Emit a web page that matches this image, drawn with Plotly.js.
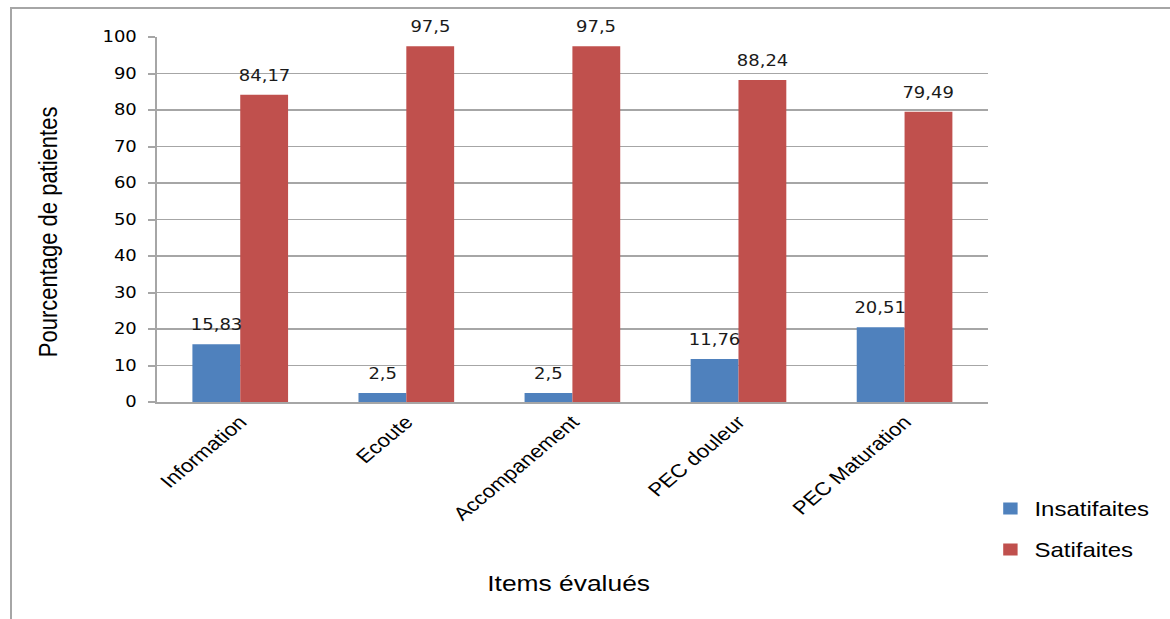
<!DOCTYPE html>
<html>
<head>
<meta charset="utf-8">
<script src="https://cdn.plot.ly/plotly-3.0.1.min.js"></script>
<style>
  html, body { margin: 0; padding: 0; background: #fff; overflow: hidden; }
  #frame {
    position: absolute; left: 10px; top: 7px; width: 1200px; height: 640px;
    border-left: 2px solid #a6a6a6; border-top: 2px solid #a6a6a6;
    pointer-events: none;
  }
  /* the chart is laid out at 975px and widened to the full 1170px */
  #chart {
    position: absolute; left: 0; top: 0; width: 975px; height: 619px;
    transform: scaleX(1.2); transform-origin: 0 0;
  }
</style>
</head>
<body>
<div id="frame"></div>
<div id="chart"></div>
<script>
// Satisfaction par item évalué (% de patientes)
const categories = ['Information', 'Ecoute', 'Accompanement', 'PEC douleur', 'PEC Maturation'];
const insatisfaites = [15.83, 2.5, 2.5, 11.76, 20.51];
const satisfaites = [84.17, 97.5, 97.5, 88.24, 79.49];
const seriesNames = ['Insatifaites', 'Satifaites'];
const yTicks = [0, 10, 20, 30, 40, 50, 60, 70, 80, 90, 100];

const W = 975, H = 619;
const margin = { l: 131, r: 150, t: 37, b: 217 };
const bargap = 0.424;
const plotW = W - margin.l - margin.r;
const plotH = H - margin.t - margin.b;
const barPx = plotW / categories.length * (1 - bargap) / 2;

const fmt = v => String(v).replace('.', ',');
const px2x = px => (px - margin.l) / plotW;
const px2y = py => (H - margin.b - py) / plotH;

const blue = '#4F81BD', red = '#C0504D';
const gridCol = '#a6a6a6';

const traces = [
  { type: 'bar', name: seriesNames[0], x: categories, y: insatisfaites,
    marker: { color: blue }, legendgroup: 'a', hoverinfo: 'x+y' },
  { type: 'bar', name: seriesNames[1], x: categories, y: satisfaites,
    marker: { color: red }, legendgroup: 'b', hoverinfo: 'x+y' }
];

// value labels above each bar
const labelFont = { family: 'DejaVu Sans, Verdana, sans-serif', size: 15, color: '#1a1a1a' };
const annotations = [];
[insatisfaites, satisfaites].forEach((vals, s) => {
  vals.forEach((v, i) => {
    annotations.push({
      x: categories[i], y: v, xref: 'x', yref: 'y',
      text: fmt(v), showarrow: false, font: labelFont,
      xanchor: 'center', yanchor: 'bottom',
      xshift: (s === 0 ? -1 : 1) * barPx / 2, yshift: 8
    });
  });
});

// axis titles
const titleFont = { family: 'Liberation Sans, Arial, sans-serif', size: 22, color: '#000' };
annotations.push({
  xref: 'paper', yref: 'paper', x: px2x(39), y: px2y(232),
  text: 'Pourcentage de patientes', textangle: -90, showarrow: false,
  xanchor: 'center', yanchor: 'middle', font: titleFont
});
annotations.push({
  xref: 'paper', yref: 'paper', x: px2x(475), y: px2y(583),
  text: 'Items évalués', showarrow: false,
  xanchor: 'center', yanchor: 'middle', font: titleFont
});

const layout = {
  width: W, height: H,
  margin: margin,
  paper_bgcolor: 'rgba(0,0,0,0)',
  plot_bgcolor: '#fff',
  barmode: 'group',
  bargap: bargap,
  bargroupgap: 0,
  showlegend: true,
  legend: {
    x: px2x(824), y: px2y(489), xanchor: 'left', yanchor: 'top',
    traceorder: 'grouped', tracegroupgap: 12,
    font: { family: 'Liberation Sans, Arial, sans-serif', size: 20, color: '#000' },
    bgcolor: 'rgba(0,0,0,0)'
  },
  xaxis: {
    type: 'category',
    showline: true, linecolor: gridCol, linewidth: 2,
    ticks: '', showgrid: false, zeroline: false,
    tickangle: -45,
    tickfont: { family: 'Liberation Sans, Arial, sans-serif', size: 18.5, color: '#000' }
  },
  yaxis: {
    range: [0, 100], tickvals: yTicks, ticktext: yTicks.map(String),
    showline: true, linecolor: gridCol, linewidth: 2,
    ticks: 'outside', ticklen: 6, tickwidth: 2, tickcolor: gridCol,
    ticklabelstandoff: 6,
    showgrid: true, gridcolor: gridCol, gridwidth: 1.5, zeroline: false,
    tickfont: { family: 'DejaVu Sans, Verdana, sans-serif', size: 15, color: '#000' }
  },
  annotations: annotations
};

Plotly.newPlot('chart', traces, layout, { displayModeBar: false, staticPlot: true });
</script>
</body>
</html>
